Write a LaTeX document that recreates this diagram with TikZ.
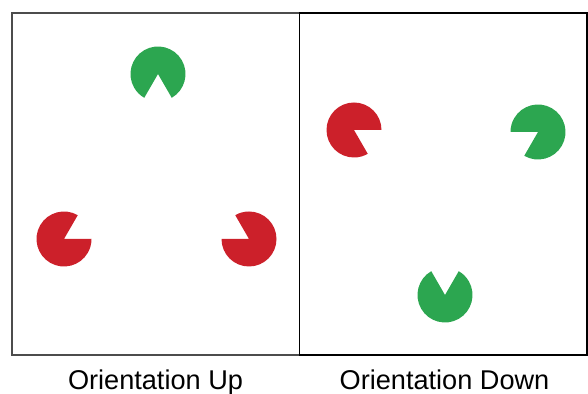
\documentclass[tikz,border=0pt]{standalone}
\usepackage{fontspec}
\setmainfont{Liberation Sans}
\definecolor{pacred}{RGB}{204,32,42}
\definecolor{pacgreen}{RGB}{44,166,80}
\begin{document}
\begin{tikzpicture}[x=0.025cm,y=0.025cm]
\useasboundingbox (0,0) rectangle (588,394);
% panels
\draw[line width=1pt, black!70] (12,39) rectangle (299.5,381);
\draw[line width=1pt] (299.5,39) rectangle (587,381);
% pac-men: x/y/mouth start/colour
\foreach \x/\y/\a/\c in {158/320/240/pacgreen, 64/155/0/pacred, 249/155/120/pacred,
                         354/264/-60/pacred, 538/262/180/pacgreen, 445/99/60/pacgreen}
{
    \fill[\c] (\x,\y) -- ++({\a+60}:27.5) arc[start angle=\a+60, end angle=\a+360, radius=27.5] -- cycle;
}
\node[anchor=base, inner sep=0] (up) at (155.5,4.5) {\fontsize{19.3}{23}\selectfont Orientation Up};
\node[anchor=base, inner sep=0] (down) at (444.5,4.5) {\fontsize{19.3}{23}\selectfont Orientation Down};
\end{tikzpicture}
\end{document}
